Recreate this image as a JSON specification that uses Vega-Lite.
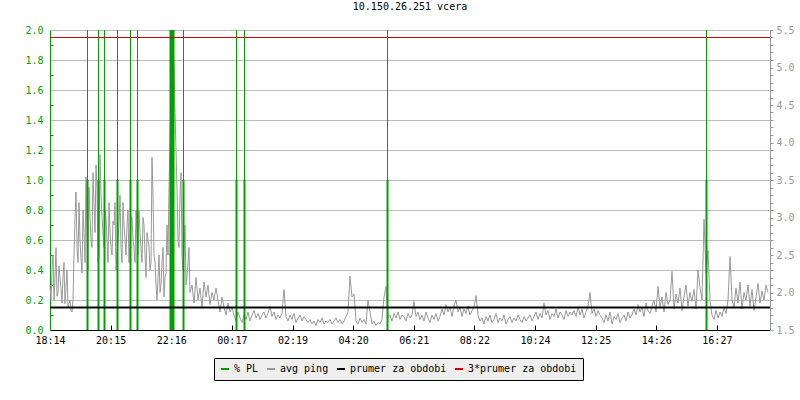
{
 "$schema": "https://vega.github.io/schema/vega-lite/v6.json",
 "width": 720,
 "height": 300,
 "autosize": "none",
 "padding": {"left": 50, "top": 30, "right": 30, "bottom": 70},
 "background": "white",
 "config": {
  "view": {"stroke": null},
  "font": "DejaVu Sans Mono",
  "axis": {"labelFont": "DejaVu Sans Mono", "labelFontSize": 10}
 },
 "title": {"text": "10.150.26.251 vcera", "font": "DejaVu Sans Mono", "fontSize": 10, "fontWeight": "normal", "color": "#000000", "anchor": "middle", "offset": 13},
 "datasets": {
  "ping": [
{"m":0,"p":2.1},{"m":4,"p":2.3},{"m":8,"p":1.9},{"m":12,"p":2.6},{"m":16,"p":2.0},{"m":20,"p":2.2},{"m":24,"p":1.86},{"m":28,"p":2.4},{"m":32,"p":2.06},{"m":36,"p":1.8},
{"m":40,"p":1.9},{"m":44,"p":1.74},{"m":48,"p":2.5},{"m":52,"p":3.34},{"m":56,"p":2.4},{"m":60,"p":2.7},{"m":64,"p":2.26},{"m":68,"p":2.8},{"m":72,"p":3.54},{"m":76,"p":2.3},
{"m":80,"p":3.0},{"m":84,"p":2.6},{"m":88,"p":3.2},{"m":92,"p":3.7},{"m":96,"p":2.4},{"m":100,"p":3.84},{"m":104,"p":3.0},{"m":108,"p":2.6},{"m":112,"p":3.0},{"m":116,"p":2.4},
{"m":120,"p":2.8},{"m":124,"p":2.5},{"m":128,"p":2.9},{"m":132,"p":2.3},{"m":136,"p":2.7},{"m":140,"p":3.3},{"m":144,"p":2.4},{"m":148,"p":2.9},{"m":152,"p":2.5},{"m":156,"p":3.1},
{"m":160,"p":2.6},{"m":164,"p":3.0},{"m":168,"p":2.6},{"m":172,"p":3.1},{"m":176,"p":2.5},{"m":180,"p":2.8},{"m":184,"p":2.4},{"m":188,"p":2.9},{"m":192,"p":2.2},{"m":196,"p":2.7},
{"m":200,"p":2.3},{"m":204,"p":3.8},{"m":208,"p":2.5},{"m":212,"p":2.1},{"m":216,"p":2.2},{"m":220,"p":2.0},{"m":224,"p":2.4},{"m":228,"p":1.94},{"m":232,"p":2.26},{"m":236,"p":2.5},
{"m":240,"p":4.0},{"m":244,"p":5.38},{"m":248,"p":5.0},{"m":252,"p":3.9},{"m":256,"p":2.7},{"m":260,"p":3.3},{"m":264,"p":2.5},{"m":268,"p":2.6},{"m":272,"p":2.1},{"m":276,"p":2.4},
{"m":280,"p":2.0},{"m":284,"p":2.1},{"m":288,"p":1.86},{"m":292,"p":2.2},{"m":296,"p":1.9},{"m":300,"p":2.06},{"m":304,"p":1.8},{"m":308,"p":2.14},{"m":312,"p":1.94},{"m":316,"p":2.1},
{"m":320,"p":1.84},{"m":324,"p":2.0},{"m":328,"p":1.9},{"m":332,"p":2.06},{"m":336,"p":1.9},{"m":340,"p":1.74},{"m":344,"p":1.94},{"m":348,"p":1.8},{"m":352,"p":1.7},{"m":356,"p":1.86},
{"m":360,"p":1.74},{"m":364,"p":1.8},{"m":368,"p":1.7},{"m":372,"p":1.62},{"m":376,"p":1.74},{"m":380,"p":1.66},{"m":384,"p":1.6},{"m":388,"p":1.7},{"m":392,"p":1.64},{"m":396,"p":1.74},
{"m":400,"p":1.62},{"m":404,"p":1.7},{"m":408,"p":1.76},{"m":412,"p":1.66},{"m":416,"p":1.72},{"m":420,"p":1.64},{"m":424,"p":1.7},{"m":428,"p":1.74},{"m":432,"p":1.66},{"m":436,"p":1.72},
{"m":440,"p":1.82},{"m":444,"p":1.68},{"m":448,"p":1.74},{"m":452,"p":1.64},{"m":456,"p":1.7},{"m":460,"p":1.66},{"m":464,"p":1.72},{"m":468,"p":2.04},{"m":472,"p":1.68},{"m":476,"p":1.62},
{"m":480,"p":1.7},{"m":484,"p":1.64},{"m":488,"p":1.72},{"m":492,"p":1.6},{"m":496,"p":1.66},{"m":500,"p":1.7},{"m":504,"p":1.62},{"m":508,"p":1.68},{"m":512,"p":1.64},{"m":516,"p":1.6},
{"m":520,"p":1.64},{"m":524,"p":1.58},{"m":528,"p":1.62},{"m":532,"p":1.56},{"m":536,"p":1.64},{"m":540,"p":1.6},{"m":544,"p":1.66},{"m":548,"p":1.58},{"m":552,"p":1.62},{"m":556,"p":1.6},
{"m":560,"p":1.64},{"m":564,"p":1.58},{"m":568,"p":1.62},{"m":572,"p":1.66},{"m":576,"p":1.6},{"m":580,"p":1.64},{"m":584,"p":1.58},{"m":588,"p":1.62},{"m":592,"p":1.68},{"m":596,"p":1.74},
{"m":600,"p":2.22},{"m":604,"p":1.94},{"m":608,"p":1.98},{"m":612,"p":1.62},{"m":616,"p":1.58},{"m":620,"p":1.66},{"m":624,"p":1.6},{"m":628,"p":1.64},{"m":632,"p":1.58},{"m":636,"p":1.9},
{"m":640,"p":1.74},{"m":644,"p":1.58},{"m":648,"p":1.62},{"m":652,"p":1.56},{"m":656,"p":1.6},{"m":660,"p":1.58},{"m":664,"p":1.64},{"m":668,"p":1.94},{"m":672,"p":2.08},{"m":676,"p":1.66},
{"m":680,"p":1.7},{"m":684,"p":1.62},{"m":688,"p":1.72},{"m":692,"p":1.66},{"m":696,"p":1.74},{"m":700,"p":1.64},{"m":704,"p":1.7},{"m":708,"p":1.68},{"m":712,"p":1.62},{"m":716,"p":1.72},
{"m":720,"p":1.66},{"m":724,"p":1.7},{"m":728,"p":1.88},{"m":732,"p":1.68},{"m":736,"p":1.74},{"m":740,"p":1.64},{"m":744,"p":1.7},{"m":748,"p":1.62},{"m":752,"p":1.74},{"m":756,"p":1.66},
{"m":760,"p":1.6},{"m":764,"p":1.7},{"m":768,"p":1.64},{"m":772,"p":1.72},{"m":776,"p":1.62},{"m":780,"p":1.68},{"m":784,"p":1.78},{"m":788,"p":1.7},{"m":792,"p":1.84},{"m":796,"p":1.74},
{"m":800,"p":1.8},{"m":804,"p":1.68},{"m":808,"p":1.82},{"m":812,"p":1.9},{"m":816,"p":1.74},{"m":820,"p":1.8},{"m":824,"p":1.68},{"m":828,"p":1.78},{"m":832,"p":1.72},{"m":836,"p":1.82},
{"m":840,"p":1.7},{"m":844,"p":1.76},{"m":848,"p":1.8},{"m":852,"p":1.96},{"m":856,"p":1.7},{"m":860,"p":1.62},{"m":864,"p":1.66},{"m":868,"p":1.58},{"m":872,"p":1.68},{"m":876,"p":1.62},
{"m":880,"p":1.7},{"m":884,"p":1.6},{"m":888,"p":1.64},{"m":892,"p":1.72},{"m":896,"p":1.6},{"m":900,"p":1.66},{"m":904,"p":1.62},{"m":908,"p":1.7},{"m":912,"p":1.58},{"m":916,"p":1.64},
{"m":920,"p":1.68},{"m":924,"p":1.6},{"m":928,"p":1.66},{"m":932,"p":1.62},{"m":936,"p":1.7},{"m":940,"p":1.64},{"m":944,"p":1.6},{"m":948,"p":1.68},{"m":952,"p":1.62},{"m":956,"p":1.66},
{"m":960,"p":1.7},{"m":964,"p":1.62},{"m":968,"p":1.68},{"m":972,"p":1.74},{"m":976,"p":1.64},{"m":980,"p":1.72},{"m":984,"p":1.66},{"m":988,"p":1.86},{"m":992,"p":1.7},{"m":996,"p":1.76},
{"m":1000,"p":1.64},{"m":1004,"p":1.72},{"m":1008,"p":1.68},{"m":1012,"p":1.78},{"m":1016,"p":1.66},{"m":1020,"p":1.74},{"m":1024,"p":1.7},{"m":1028,"p":1.64},{"m":1032,"p":1.76},{"m":1036,"p":1.68},
{"m":1040,"p":1.74},{"m":1044,"p":1.7},{"m":1048,"p":1.76},{"m":1052,"p":1.68},{"m":1056,"p":1.8},{"m":1060,"p":1.7},{"m":1064,"p":1.78},{"m":1068,"p":1.66},{"m":1072,"p":1.74},{"m":1076,"p":1.82},
{"m":1080,"p":2.0},{"m":1084,"p":1.72},{"m":1088,"p":1.78},{"m":1092,"p":1.68},{"m":1096,"p":1.76},{"m":1100,"p":1.7},{"m":1104,"p":1.66},{"m":1108,"p":1.6},{"m":1112,"p":1.7},{"m":1116,"p":1.62},
{"m":1120,"p":1.74},{"m":1124,"p":1.58},{"m":1128,"p":1.68},{"m":1132,"p":1.64},{"m":1136,"p":1.72},{"m":1140,"p":1.6},{"m":1144,"p":1.66},{"m":1148,"p":1.7},{"m":1152,"p":1.62},{"m":1156,"p":1.74},
{"m":1160,"p":1.66},{"m":1164,"p":1.7},{"m":1168,"p":1.78},{"m":1172,"p":1.7},{"m":1176,"p":1.84},{"m":1180,"p":1.74},{"m":1184,"p":1.8},{"m":1188,"p":1.68},{"m":1192,"p":1.86},{"m":1196,"p":1.76},
{"m":1200,"p":1.72},{"m":1204,"p":1.82},{"m":1208,"p":1.9},{"m":1212,"p":1.74},{"m":1216,"p":2.08},{"m":1220,"p":1.8},{"m":1224,"p":1.94},{"m":1228,"p":1.74},{"m":1232,"p":2.0},{"m":1236,"p":1.84},
{"m":1240,"p":1.9},{"m":1244,"p":2.28},{"m":1248,"p":1.78},{"m":1252,"p":1.98},{"m":1256,"p":1.86},{"m":1260,"p":2.06},{"m":1264,"p":1.76},{"m":1268,"p":1.94},{"m":1272,"p":2.1},{"m":1276,"p":1.82},
{"m":1280,"p":2.0},{"m":1284,"p":1.88},{"m":1288,"p":2.04},{"m":1292,"p":1.78},{"m":1296,"p":2.3},{"m":1300,"p":2.06},{"m":1304,"p":1.9},{"m":1308,"p":2.98},{"m":1312,"p":2.26},{"m":1316,"p":2.56},
{"m":1320,"p":1.9},{"m":1324,"p":1.7},{"m":1328,"p":1.64},{"m":1332,"p":1.76},{"m":1336,"p":1.66},{"m":1340,"p":1.74},{"m":1344,"p":1.68},{"m":1348,"p":1.8},{"m":1352,"p":1.72},{"m":1356,"p":1.9},
{"m":1360,"p":2.48},{"m":1364,"p":1.9},{"m":1368,"p":1.8},{"m":1372,"p":2.06},{"m":1376,"p":1.86},{"m":1380,"p":2.14},{"m":1384,"p":1.78},{"m":1388,"p":2.0},{"m":1392,"p":1.9},{"m":1396,"p":2.1},
{"m":1400,"p":1.82},{"m":1404,"p":2.04},{"m":1408,"p":1.76},{"m":1412,"p":1.94},{"m":1416,"p":2.12},{"m":1420,"p":1.86},{"m":1424,"p":2.02},{"m":1428,"p":1.9},{"m":1432,"p":2.1},{"m":1436,"p":2.0},
{"m":2,"p":1.9},{"m":6,"p":2.5},{"m":10,"p":2.2},{"m":14,"p":1.95},{"m":18,"p":2.35},{"m":22,"p":2.05},{"m":26,"p":2.2},{"m":30,"p":1.85},{"m":34,"p":2.3},
{"m":38,"p":1.85},{"m":42,"p":1.76},{"m":46,"p":1.9},
{"m":50,"p":3.0},{"m":54,"p":2.6},{"m":58,"p":3.2},{"m":62,"p":2.45},{"m":66,"p":3.1},{"m":70,"p":2.4},{"m":74,"p":2.9},{"m":78,"p":3.4},
{"m":82,"p":2.7},{"m":86,"p":3.6},{"m":90,"p":2.8},{"m":94,"p":3.4},{"m":98,"p":2.5},{"m":102,"p":3.3},{"m":106,"p":2.8},
{"m":110,"p":3.1},{"m":114,"p":2.7},{"m":118,"p":3.2},{"m":122,"p":2.6},{"m":126,"p":2.95},{"m":130,"p":3.2},{"m":134,"p":2.5},{"m":138,"p":2.9},{"m":142,"p":2.6},{"m":146,"p":3.2},
{"m":150,"p":2.7},{"m":154,"p":2.9},{"m":158,"p":2.4},{"m":162,"p":3.0},{"m":166,"p":2.7},
{"m":170,"p":2.4},{"m":174,"p":2.9},{"m":178,"p":3.1},{"m":182,"p":2.6},{"m":186,"p":3.0},{"m":190,"p":2.5},{"m":194,"p":2.8},{"m":198,"p":2.6},{"m":202,"p":2.4},{"m":206,"p":3.3},
{"m":210,"p":2.4},{"m":214,"p":1.9},{"m":218,"p":2.5},{"m":222,"p":2.1},{"m":226,"p":2.6},{"m":230,"p":2.2},{"m":234,"p":2.9},{"m":238,"p":3.4},
{"m":242,"p":4.6},{"m":246,"p":5.2},{"m":250,"p":4.4},
{"m":254,"p":3.4},{"m":258,"p":2.6},{"m":262,"p":3.6},{"m":266,"p":2.3},{"m":270,"p":2.9},{"m":274,"p":2.2},{"m":278,"p":2.6}
  ],
  "pl": [
   {"m": 75, "pl": 1}, {"m": 97, "pl": 1}, {"m": 109, "pl": 1}, {"m": 135, "pl": 1},
   {"m": 161, "pl": 1}, {"m": 175, "pl": 1}, {"m": 241, "pl": 2}, {"m": 244, "pl": 2},
   {"m": 247, "pl": 2}, {"m": 267, "pl": 1}, {"m": 373, "pl": 1}, {"m": 389, "pl": 1},
   {"m": 675, "pl": 1}, {"m": 1313, "pl": 1}
  ],
  "avgs": [
   {"s": "prumer za obdobi", "v": 1.8},
   {"s": "3*prumer za obdobi", "v": 5.4}
  ]
 },
 "layer": [
  {
   "data": {"name": "ping"},
   "mark": {"type": "line", "strokeWidth": 1},
   "encoding": {
    "x": {
     "field": "m", "type": "quantitative",
     "scale": {"domain": [0, 1440], "nice": false, "zero": false, "padding": 0},
     "axis": {
      "orient": "bottom", "title": null, "grid": false,
      "values": [0, 121.25, 242.5, 363.75, 485, 606.25, 727.5, 848.75, 970, 1091.25, 1212.5, 1333.75],
      "labelExpr": "timeFormat(datetime(2000,0,1,18,14+datum.value),'%H:%M')",
      "domainColor": "#000000", "tickColor": "#000000", "tickSize": -5,
      "labelColor": "#000000", "labelPadding": 10, "labelFlush": false,
      "labelOverlap": false, "labelBound": false, "labelAlign": "center"
     }
    },
    "y": {
     "field": "p", "type": "quantitative",
     "scale": {"domain": [1.5, 5.5], "nice": false, "zero": false},
     "axis": {
      "orient": "right", "title": null, "grid": false,
      "values": [1.5,1.6,1.7,1.8,1.9,2.0,2.1,2.2,2.3,2.4,2.5,2.6,2.7,2.8,2.9,3.0,3.1,3.2,3.3,3.4,3.5,3.6,3.7,3.8,3.9,4.0,4.1,4.2,4.3,4.4,4.5,4.6,4.7,4.8,4.9,5.0,5.1,5.2,5.3,5.4,5.5],
      "labelExpr": "round(datum.value*10)%5==0 ? format(datum.value,'.1f') : ''",
      "domainColor": "#999999", "tickColor": "#999999", "tickSize": 3,
      "labelColor": "#999999", "labelPadding": 3,
      "labelOverlap": false, "labelBound": false, "labelFlush": false
     }
    },
    "color": {
     "datum": "avg ping", "type": "nominal", "title": null,
     "scale": {
      "domain": ["% PL", "avg ping", "prumer za obdobi", "3*prumer za obdobi"],
      "range": ["#00a000", "#999999", "#000000", "#dd0000"]
     },
     "legend": {
      "orient": "none", "legendX": 164, "legendY": 328,
      "direction": "horizontal", "title": null,
      "fillColor": "#eeeeee", "strokeColor": "#000000", "padding": 6,
      "labelFont": "DejaVu Sans Mono", "labelFontSize": 10, "labelColor": "#000000",
      "symbolType": "stroke", "symbolStrokeWidth": 2, "symbolSize": 64,
      "columnPadding": 4, "labelOffset": 4
     }
    }
   }
  },
  {
   "data": {"name": "pl"},
   "layer": [
    {
     "mark": {"type": "rule", "strokeWidth": 1},
     "encoding": {
      "x": {"field": "m", "type": "quantitative", "scale": {"domain": [0, 1440], "nice": false, "zero": false, "padding": 0}},
      "color": {"datum": "% PL", "type": "nominal", "title": null}
     }
    },
    {
     "mark": {"type": "bar", "size": 2},
     "encoding": {
      "x": {"field": "m", "type": "quantitative"},
      "y": {
       "field": "pl", "type": "quantitative",
       "scale": {"domain": [0, 2], "nice": false, "zero": true},
       "axis": {
        "orient": "left", "title": null, "grid": true,
        "values": [0,0.1,0.2,0.3,0.4,0.5,0.6,0.7,0.8,0.9,1,1.1,1.2,1.3,1.4,1.5,1.6,1.7,1.8,1.9,2],
        "labelExpr": "round(datum.value*10)%2==0 ? format(datum.value,'.1f') : ''",
        "gridColor": "#bbbbbb",
        "gridOpacity": {"condition": {"test": "round(datum.value*10)%2==0", "value": 1}, "value": 0},
        "tickOpacity": {"condition": {"test": "round(datum.value*10)%2==0", "value": 0}, "value": 1},
        "domainColor": "#00a000", "tickColor": "#555555", "tickSize": -3,
        "labelColor": "#00a000", "labelPadding": 10,
        "labelOverlap": false, "labelBound": false, "labelFlush": false
       }
      },
      "color": {"datum": "% PL", "type": "nominal", "title": null}
     }
    }
   ]
  },
  {
   "data": {"name": "avgs"},
   "layer": [
    {
     "transform": [{"filter": "datum.s == 'prumer za obdobi'"}],
     "mark": {"type": "rule", "strokeWidth": 2},
     "encoding": {
      "y": {"field": "v", "type": "quantitative", "scale": {"domain": [1.5, 5.5], "nice": false, "zero": false}, "axis": null},
      "color": {"field": "s", "type": "nominal", "title": null}
     }
    },
    {
     "transform": [{"filter": "datum.s == '3*prumer za obdobi'"}],
     "mark": {"type": "rule", "strokeWidth": 1},
     "encoding": {
      "y": {"field": "v", "type": "quantitative", "axis": null},
      "color": {"field": "s", "type": "nominal", "title": null}
     }
    }
   ]
  }
 ],
 "resolve": {"scale": {"y": "independent"}}
}
